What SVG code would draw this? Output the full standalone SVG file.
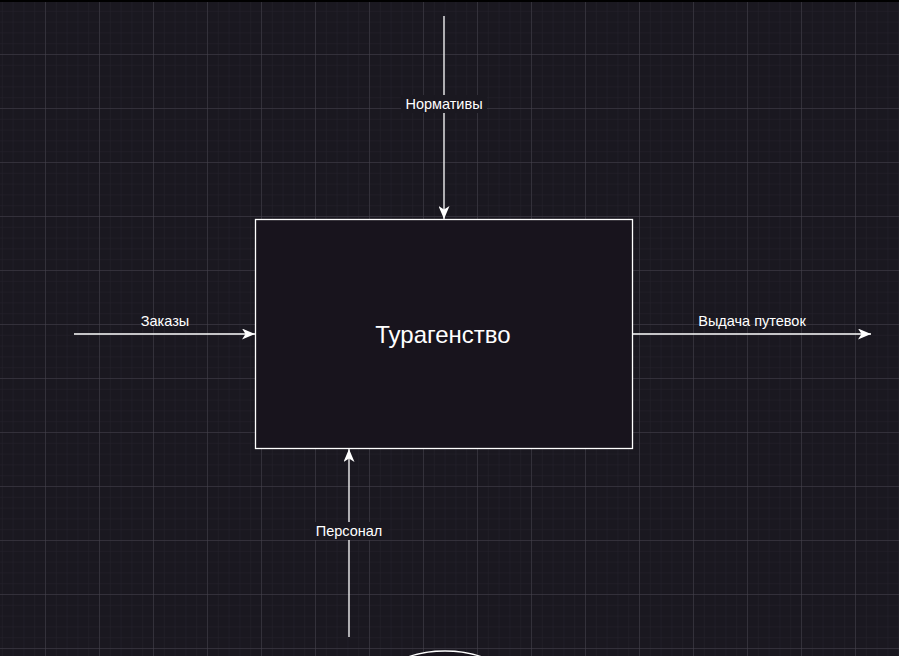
<svg xmlns="http://www.w3.org/2000/svg" width="899" height="656" viewBox="0 0 899 656">
<style>
.edge{stroke:#ffffff;stroke-width:1.3;fill:none}
.lbl{font-family:"Liberation Sans",Arial,sans-serif;font-size:14.5px;fill:#ffffff;text-anchor:middle}
.lblbg{fill:#1a1820}
</style>
<defs>
<pattern id="minor" x="45" y="0" width="10.8" height="10.8" patternUnits="userSpaceOnUse">
<path d="M0 0H10.8M0 0V10.8" stroke="#25222c" stroke-width="1" fill="none"/>
</pattern>
<pattern id="major" x="45" y="0" width="54" height="54" patternUnits="userSpaceOnUse">
<path d="M0 0H54M0 0V54" stroke="#46444d" stroke-width="1" fill="none"/>
</pattern>
<marker id="arr" viewBox="0 0 13 11" refX="13" refY="5.5" markerWidth="13" markerHeight="11" markerUnits="userSpaceOnUse" orient="auto">
<path d="M0 0L13 5.5L0 11L3.5 5.5Z" fill="#ffffff"/>
</marker>
</defs>
<rect width="899" height="656" fill="#1a1820"/>
<rect width="899" height="656" fill="url(#minor)"/>
<rect width="899" height="656" fill="url(#major)"/>
<line x1="0" y1="1" x2="899" y2="1" stroke="#000" stroke-width="2"/>
<g id="connectors">
<line class="edge" x1="444" y1="16" x2="444" y2="219" marker-end="url(#arr)"/>
<line class="edge" x1="74" y1="334" x2="255" y2="334" marker-end="url(#arr)"/>
<line class="edge" x1="633" y1="334" x2="871" y2="334" marker-end="url(#arr)"/>
<line class="edge" x1="349" y1="637" x2="349" y2="449" marker-end="url(#arr)"/>
<rect class="lblbg" x="401" y="95" width="86" height="18"/>
<text class="lbl" x="444" y="109">Нормативы</text>
<text class="lbl" x="165" y="326">Заказы</text>
<text class="lbl" x="752" y="326">Выдача путевок</text>
<rect class="lblbg" x="310" y="522" width="78" height="18"/>
<text class="lbl" x="349" y="536">Персонал</text>
</g>
<g id="node-main">
<rect x="255.5" y="219.5" width="377" height="229" fill="#18141d" stroke="#ffffff" stroke-width="1.3"/>
<text x="443" y="343" font-family="'Liberation Sans',Arial,sans-serif" font-size="24" fill="#ffffff" text-anchor="middle">Турагенство</text>
</g>
<g id="node-bottom">
<ellipse cx="445" cy="691" rx="70" ry="40" fill="#18141d" stroke="#ffffff" stroke-width="1.3"/>
</g>
</svg>
